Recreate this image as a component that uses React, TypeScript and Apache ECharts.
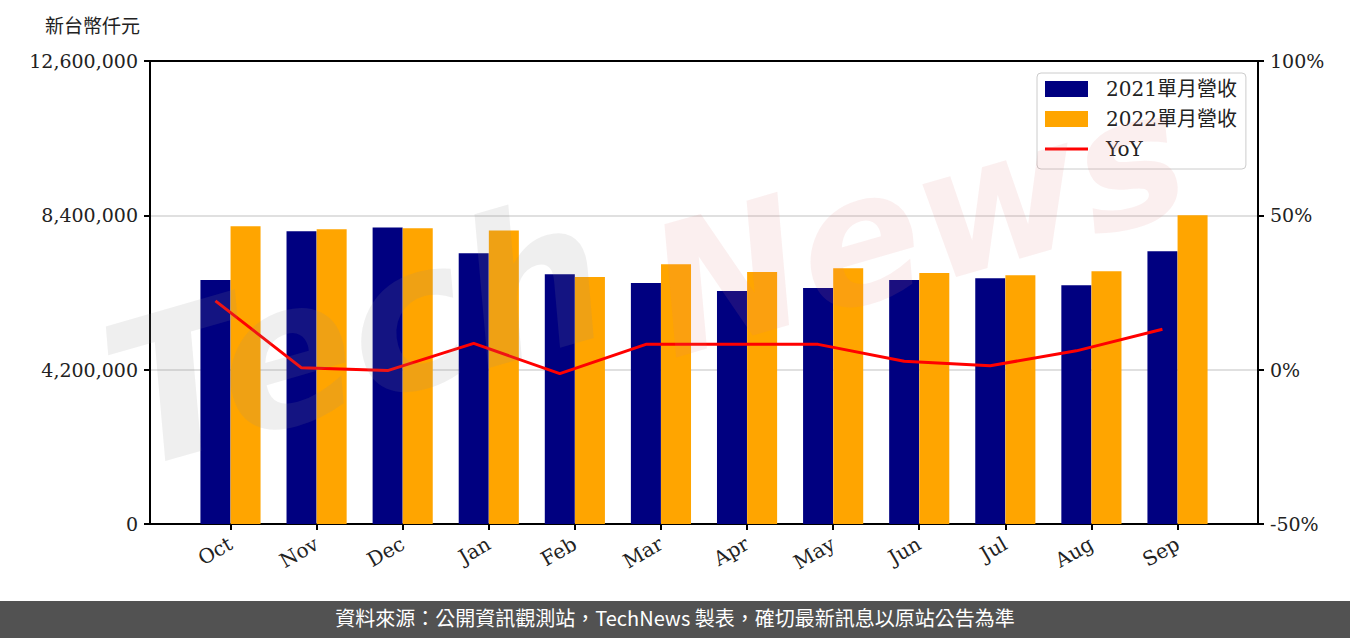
import React, { useEffect, useRef } from "react";
import * as echarts from "echarts";

const months = ["Oct", "Nov", "Dec", "Jan", "Feb", "Mar", "Apr", "May", "Jun", "Jul", "Aug", "Sep"];
const rev2021 = [6640000, 7970000, 8070000, 7370000, 6800000, 6560000, 6340000, 6420000, 6640000, 6690000, 6500000, 7420000];
const rev2022 = [8100000, 8020000, 8050000, 7990000, 6720000, 7070000, 6860000, 6960000, 6830000, 6770000, 6880000, 8400000];
const yoy = [22.3, 0.6, -0.3, 8.5, -1.3, 8.2, 8.2, 8.2, 2.7, 1.3, 6.1, 13.1];
const seriesNames = ["2021單月營收", "2022單月營收", "YoY"];
const leftTicks = { min: 0, max: 12600000, interval: 4200000 };
const rightTicks = { min: -50, max: 100, interval: 50 };
const yAxisTitle = "新台幣仟元";
const footerText = "資料來源：公開資訊觀測站，TechNews 製表，確切最新訊息以原站公告為準";

const SERIF = '"DejaVu Serif", "Noto Sans CJK TC", serif';
const CJK = '"Noto Sans CJK TC", sans-serif';
const LINE_ICON = "path://M0,0 L0.01,0 M0,6.5 L43,6.5 L43,9.5 L0,9.5 Z M43,16 L42.99,16";

export default function App() {
  const ref = useRef<HTMLDivElement>(null);
  useEffect(() => {
    document.body.style.margin = "0";
    const chart = echarts.init(ref.current!, null, { renderer: "svg" });
    const idx = months.map((_, i) => i);
    const barW = 30;
    const option = {
      animation: false,
      backgroundColor: "#ffffff",
      textStyle: { fontFamily: SERIF },
      grid: {
        left: 150,
        right: 92,
        top: 61,
        bottom: 114,
        show: true,
        borderColor: "#000",
        borderWidth: 2,
        backgroundColor: "transparent",
      },
      legend: {
        orient: "vertical",
        left: 1037,
        top: 73,
        padding: [6, 9, 10, 8],
        itemGap: 10,
        itemWidth: 43,
        itemHeight: 16,
        borderColor: "#cccccc",
        borderWidth: 1,
        borderRadius: 4,
        backgroundColor: "rgba(255,255,255,0.85)",
        textStyle: { fontFamily: SERIF, fontSize: 20, lineHeight: 20, color: "#222", padding: [0, 0, 0, 13] },
        data: [
          { name: seriesNames[0], icon: "rect" },
          { name: seriesNames[1], icon: "rect" },
          { name: seriesNames[2], icon: LINE_ICON },
        ],
      },
      xAxis: {
        type: "value",
        min: -0.935,
        max: 11.935,
        axisLine: { show: true, onZero: false, lineStyle: { color: "#000", width: 2 } },
        splitLine: { show: false },
        axisTick: { show: true, customValues: idx, length: 6, lineStyle: { color: "#000", width: 2 } },
        axisLabel: {
          customValues: idx,
          formatter: (v: number) => months[Math.round(v)] ?? "",
          rotate: 30,
          fontFamily: SERIF,
          fontSize: 20,
          color: "#222",
          margin: 18,
        },
      },
      yAxis: [
        {
          type: "value",
          min: leftTicks.min,
          max: leftTicks.max,
          interval: leftTicks.interval,
          axisLine: { show: true, onZero: false, lineStyle: { color: "#000", width: 2 } },
          axisTick: { show: true, length: 6, lineStyle: { color: "#000", width: 2 } },
          axisLabel: {
            fontFamily: SERIF,
            fontSize: 19,
            color: "#222",
            margin: 12,
            formatter: (v: number) => v.toLocaleString("en-US"),
          },
          splitLine: { show: true, showMinLine: false, showMaxLine: false, lineStyle: { color: "#d6d6d6", width: 1.5 } },
        },
        {
          type: "value",
          min: rightTicks.min,
          max: rightTicks.max,
          interval: rightTicks.interval,
          position: "right",
          axisLine: { show: true, onZero: false, lineStyle: { color: "#000", width: 2 } },
          axisTick: { show: true, length: 6, lineStyle: { color: "#000", width: 2 } },
          axisLabel: { fontFamily: SERIF, fontSize: 19, color: "#222", margin: 12, formatter: "{value}%" },
          splitLine: { show: false },
        },
      ],
      series: [
        {
          name: seriesNames[0],
          type: "bar",
          barWidth: barW,
          barGap: "-100%",
          itemStyle: { color: "#000080" },
          data: rev2021.map((v, i) => [i - 0.175, v]),
        },
        {
          name: seriesNames[1],
          type: "bar",
          barWidth: barW,
          barGap: "-100%",
          itemStyle: { color: "#FFA500" },
          data: rev2022.map((v, i) => [i + 0.175, v]),
        },
        {
          name: seriesNames[2],
          type: "line",
          yAxisIndex: 1,
          symbol: "none",
          z: 5,
          lineStyle: { color: "#FF0000", width: 3 },
          itemStyle: { color: "#FF0000" },
          data: yoy.map((v, i) => [i - 0.175, v]),
        },
      ],
      graphic: [
        {
          type: "text",
          left: 45,
          top: 15,
          style: { text: yAxisTitle, font: `19px ${CJK}`, fill: "#222" },
        },
        {
          type: "text",
          x: 140,
          y: 500,
          rotation: 0.28,
          silent: true,
          z: 100,
          style: {
            text: "Tech",
            font: `italic bold 200px "DejaVu Sans", sans-serif`,
            fill: "rgba(140,140,140,0.14)",
            textVerticalAlign: "bottom",
          },
        },
        {
          type: "text",
          x: 680,
          y: 385,
          rotation: 0.28,
          silent: true,
          z: 100,
          style: {
            text: "News",
            font: `italic bold 180px "DejaVu Sans", sans-serif`,
            fill: "rgba(225,120,120,0.12)",
            textVerticalAlign: "bottom",
          },
        },
        {
          type: "rect",
          left: 0,
          top: 601,
          shape: { width: 1350, height: 37 },
          style: { fill: "#525252" },
          z: 50,
        },
        {
          type: "text",
          left: "center",
          top: 607,
          z: 51,
          style: { text: footerText, font: `20px ${CJK}`, fill: "#ffffff" },
        },
      ],
    };
    chart.setOption(option as any);
    return () => chart.dispose();
  }, []);
  return <div ref={ref} style={{ width: 1350, height: 638 }} />;
}
